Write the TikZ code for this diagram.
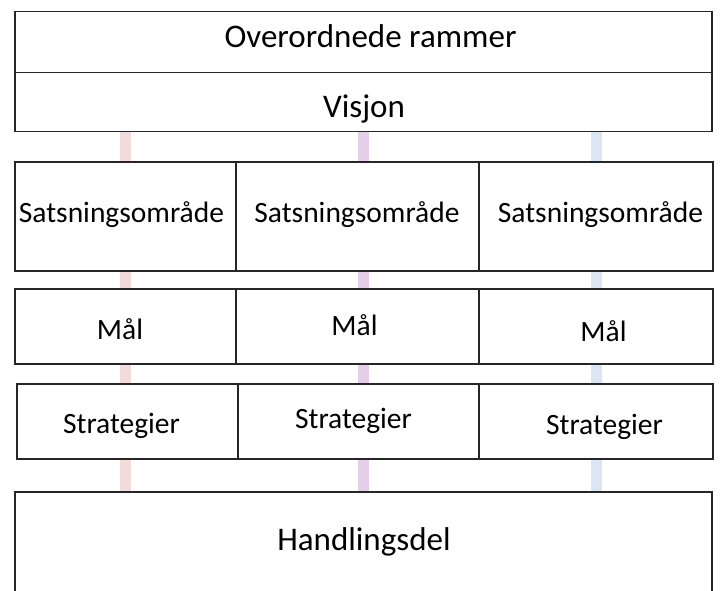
\documentclass[tikz,border=0pt]{standalone}
\usepackage{fontspec}
\setmainfont{Carlito}

\begin{document}
\begin{tikzpicture}[x=1pt, y=-1pt]
\tikzset{
    cell/.style={rectangle, draw=black!85, line width=1.5pt, fill=white, anchor=north west, inner sep=0pt},
    bar/.style={line width=11pt},
    lbl/.style={anchor=base, inner sep=0pt, font=\fontsize{29.5}{32}\selectfont},
    biglbl/.style={anchor=base, inner sep=0pt, font=\fontsize{33}{36}\selectfont}
}
\definecolor{barpink}{RGB}{242,220,219}
\definecolor{barpurple}{RGB}{228,206,232}
\definecolor{barblue}{RGB}{220,230,242}

  \useasboundingbox (0,0) rectangle (720,591);
  \clip (0,0) rectangle (720,591);

  % coloured bars behind the boxes
  \foreach \x/\c/\n in {125/barpink/a, 363/barpurple/b, 596/barblue/c} {
    \coordinate (top\n) at (\x,131);
    \coordinate (bot\n) at (\x,491);
    \draw[bar, \c] (top\n) -- (bot\n);
  }

  % top frame
  \node[cell, minimum width=697pt, minimum height=61pt] (rammer) at (14,11) {};
  \node[cell, minimum width=697pt, minimum height=59pt] (visjon) at (14,72) {};
  \node[biglbl] (rammertxt) at (370.5,48) {Overordnede rammer};
  \node[biglbl] (visjontxt) at (364,118) {Visjon};

  % satsningsomraader
  \node[cell, minimum width=221pt, minimum height=109pt] (sats1) at (14,161) {};
  \node[cell, minimum width=243pt, minimum height=109pt] (sats2) at (235,161) {};
  \node[cell, minimum width=234pt, minimum height=109pt] (sats3) at (478,161) {};
  \node[lbl] (sats1txt) at (121.5,222) {Satsningsområde};
  \node[lbl] (sats2txt) at (357,222) {Satsningsområde};
  \node[lbl] (sats3txt) at (600.5,222) {Satsningsområde};

  % maal
  \node[cell, minimum width=221pt, minimum height=75pt] (maal1) at (14,288) {};
  \node[cell, minimum width=243pt, minimum height=75pt] (maal2) at (235,288) {};
  \node[cell, minimum width=234pt, minimum height=75pt] (maal3) at (478,288) {};
  \node[lbl] (maal1txt) at (120,339) {Mål};
  \node[lbl] (maal2txt) at (354.5,335) {Mål};
  \node[lbl] (maal3txt) at (603.5,341) {Mål};

  % strategier
  \node[cell, minimum width=221pt, minimum height=75pt] (strat1) at (16,383) {};
  \node[cell, minimum width=241pt, minimum height=75pt] (strat2) at (237,383) {};
  \node[cell, minimum width=234pt, minimum height=75pt] (strat3) at (478,383) {};
  \node[lbl] (strat1txt) at (121.5,433) {Strategier};
  \node[lbl] (strat2txt) at (353.5,428) {Strategier};
  \node[lbl] (strat3txt) at (604.5,434) {Strategier};

  % handlingsdel
  \node[cell, minimum width=697pt, minimum height=103pt] (handling) at (14,491) {};
  \node[biglbl] (handlingtxt) at (364,550) {Handlingsdel};
\end{tikzpicture}
\end{document}
